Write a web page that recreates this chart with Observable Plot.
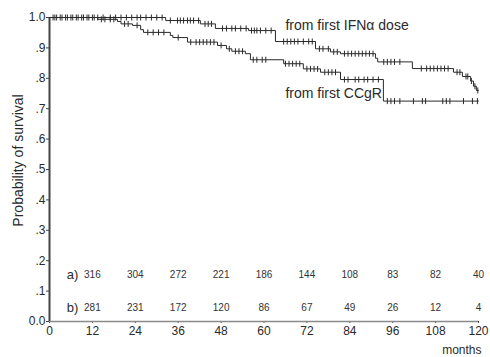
<!DOCTYPE html>
<html>
<head>
<meta charset="utf-8">
<script src="https://cdn.jsdelivr.net/npm/d3@7"></script>
<script src="https://cdn.jsdelivr.net/npm/@observablehq/plot@0.6"></script>
<style>
  html, body { margin: 0; padding: 0; background: #fff; }
</style>
</head>
<body>
<div id="chart"></div>
<script>
// Kaplan–Meier survival, (a) from first IFNα dose, (b) from first CCgR
const followUpEnd = 120;

// step curve: event times (months) and survival after each step
const ifnTimes = [0, 32.5, 42.2, 46.4, 55.7, 63.2, 74.4, 78.6, 81.4, 91.2, 91.8, 101.5, 113, 115.5, 117.8, 118.6, 119.4];
const ifnSurv  = [1.0, 0.990, 0.979, 0.964, 0.957, 0.921, 0.897, 0.887, 0.881, 0.866, 0.854, 0.832, 0.820, 0.806, 0.791, 0.774, 0.760];

const ccgrTimes = [0, 13.5, 19, 20, 23.2, 25.5, 26.3, 33.8, 34.5, 38.6, 47, 49.5, 51, 54.8, 56.2, 65.5, 71, 75.8, 81.4, 93.4];
const ccgrSurv  = [1.0, 0.994, 0.987, 0.979, 0.974, 0.960, 0.951, 0.941, 0.934, 0.919, 0.908, 0.897, 0.889, 0.881, 0.861, 0.848, 0.831, 0.820, 0.796, 0.725];

// censored observations (months)
const ifnCensored = [1.5, 3, 4.5, 6, 7.5, 9, 10.5, 12, 13.5, 15, 17, 18.5, 20, 21.5, 23, 24.5, 25.5, 27, 28.5, 30, 31.5,
  33.8, 35.8, 36.6, 37.5, 38.6, 39.4, 40.3, 41.7, 43.5, 44.4, 45.3,
  48.4, 49.5, 51, 52, 53.5, 55, 56.5, 57.3, 58, 59, 60.5, 62,
  65.5, 66.5, 67.5, 68.5, 69.5, 71, 72.5, 73.5, 75.5, 76.5, 78, 79.5, 80.5,
  82.5, 83.5, 84.5, 85.5, 86.5, 87.5, 88.5, 89.5, 90.5, 93.5, 94.5, 95.5, 96.5, 98,
  104, 105.5, 106.5, 107.5, 108.5, 109.5, 110.5, 111.5, 114, 114.8, 116.5, 117, 118, 119, 119.8];
const ccgrCensored = [1, 2, 3.5, 5, 6.5, 8, 9.5, 11, 12.5, 14.5, 15.5, 17, 18, 21, 22, 24.5,
  27.5, 29, 30.5, 32, 36, 39.5, 41, 42, 43, 44, 45, 46, 48, 50.3, 52, 53, 54,
  57, 58, 59.5, 60.5, 66, 67, 68, 69, 70, 72, 73, 74, 75, 77, 78, 79, 80,
  82.5, 83.5, 85.5, 86.5, 88, 89, 90.5, 92, 94.5, 95.5, 96.5, 98, 101.8, 104.3, 105.2,
  110, 111, 112, 115.8, 118.3, 119.7];

// numbers at risk
const riskMonths = [12, 24, 36, 48, 60, 72, 84, 96, 108, 120];
const atRiskA = [316, 304, 272, 221, 186, 144, 108, 83, 82, 40];
const atRiskB = [281, 231, 172, 120, 86, 67, 49, 26, 12, 4];

// axis ticks
const xTicks = [0, 12, 24, 36, 48, 60, 72, 84, 96, 108, 120];
const yTicks = [0, 0.1, 0.2, 0.3, 0.4, 0.5, 0.6, 0.7, 0.8, 0.9, 1.0];
const yTickLabels = ["0.0", ".1", ".2", ".3", ".4", ".5", ".6", ".7", ".8", ".9", "1.0"];

const curveLabels = ["from first IFNα dose", "from first CCgR"];

function stepPoints(times, surv) {
  const pts = times.map((t, i) => ({t, s: surv[i]}));
  pts.push({t: followUpEnd, s: surv[surv.length - 1]});
  return pts;
}
function survivalAt(times, surv, t) {
  let s = surv[0];
  for (let i = 0; i < times.length; i++) if (times[i] <= t) s = surv[i];
  return s;
}
const censorMarks = (cens, times, surv) => cens.map(t => ({t, s: survivalAt(times, surv, t)}));

// short vertical stroke used for censoring ticks
const censorTick = {
  draw(context, size) {
    const h = Math.sqrt(size / Math.PI);
    context.moveTo(0, -h);
    context.lineTo(0, h);
  }
};

const ink = "#2a2a2a";

const chart = Plot.plot({
  width: 490,
  height: 357,
  marginLeft: 49,
  marginRight: 12,
  marginTop: 17,
  marginBottom: 36,
  style: {fontFamily: "'Liberation Sans', Arial, sans-serif", background: "#fff", color: ink},
  x: {domain: [0, 120]},
  y: {domain: [0, 1]},
  marks: [
    Plot.axisY(yTicks, {tickFormat: d => yTickLabels[yTicks.indexOf(d)], tickSize: 3, tickPadding: 1, fontSize: 12, label: null, stroke: "#444"}),
    Plot.axisX(xTicks, {tickSize: 2, tickPadding: 3, fontSize: 12, label: null, stroke: "#444"}),
    Plot.ruleY([0], {stroke: "#8a8a8a", strokeWidth: 1.5}),
    Plot.ruleX([0], {stroke: "#444", strokeWidth: 2}),

    Plot.line(stepPoints(ifnTimes, ifnSurv), {x: "t", y: "s", curve: "step-after", stroke: ink, strokeWidth: 1}),
    Plot.line(stepPoints(ccgrTimes, ccgrSurv), {x: "t", y: "s", curve: "step-after", stroke: ink, strokeWidth: 1}),
    Plot.dot(censorMarks(ifnCensored, ifnTimes, ifnSurv), {x: "t", y: "s", symbol: censorTick, r: 3, stroke: ink, strokeWidth: 1, fill: "none"}),
    Plot.dot(censorMarks(ccgrCensored, ccgrTimes, ccgrSurv), {x: "t", y: "s", symbol: censorTick, r: 3, stroke: ink, strokeWidth: 1, fill: "none"}),

    Plot.text([curveLabels[0]], {x: 66, y: 0.974, textAnchor: "start", fontSize: 14, fill: ink}),
    Plot.text([curveLabels[1]], {x: 66, y: 0.751, textAnchor: "start", fontSize: 14, fill: ink}),

    Plot.text(["a)"], {x: riskMonths[0], y: 0.155, dx: -14, textAnchor: "end", fontSize: 13, fill: ink}),
    Plot.text(["b)"], {x: riskMonths[0], y: 0.046, dx: -14, textAnchor: "end", fontSize: 13, fill: ink}),
    Plot.text(atRiskA, {x: (d, i) => riskMonths[i], y: 0.155, fontSize: 10, fill: "#333"}),
    Plot.text(atRiskB, {x: (d, i) => riskMonths[i], y: 0.046, fontSize: 10, fill: "#333"}),

    Plot.text(["Probability of survival"], {frameAnchor: "left", textAnchor: "middle", rotate: -90, dx: -31, dy: -9, fontSize: 14, fill: ink}),
    Plot.text(["months"], {frameAnchor: "bottom-right", textAnchor: "end", dx: 3, dy: 32, fontSize: 12, fill: ink})
  ]
});

document.getElementById("chart").appendChild(chart);
</script>
</body>
</html>
